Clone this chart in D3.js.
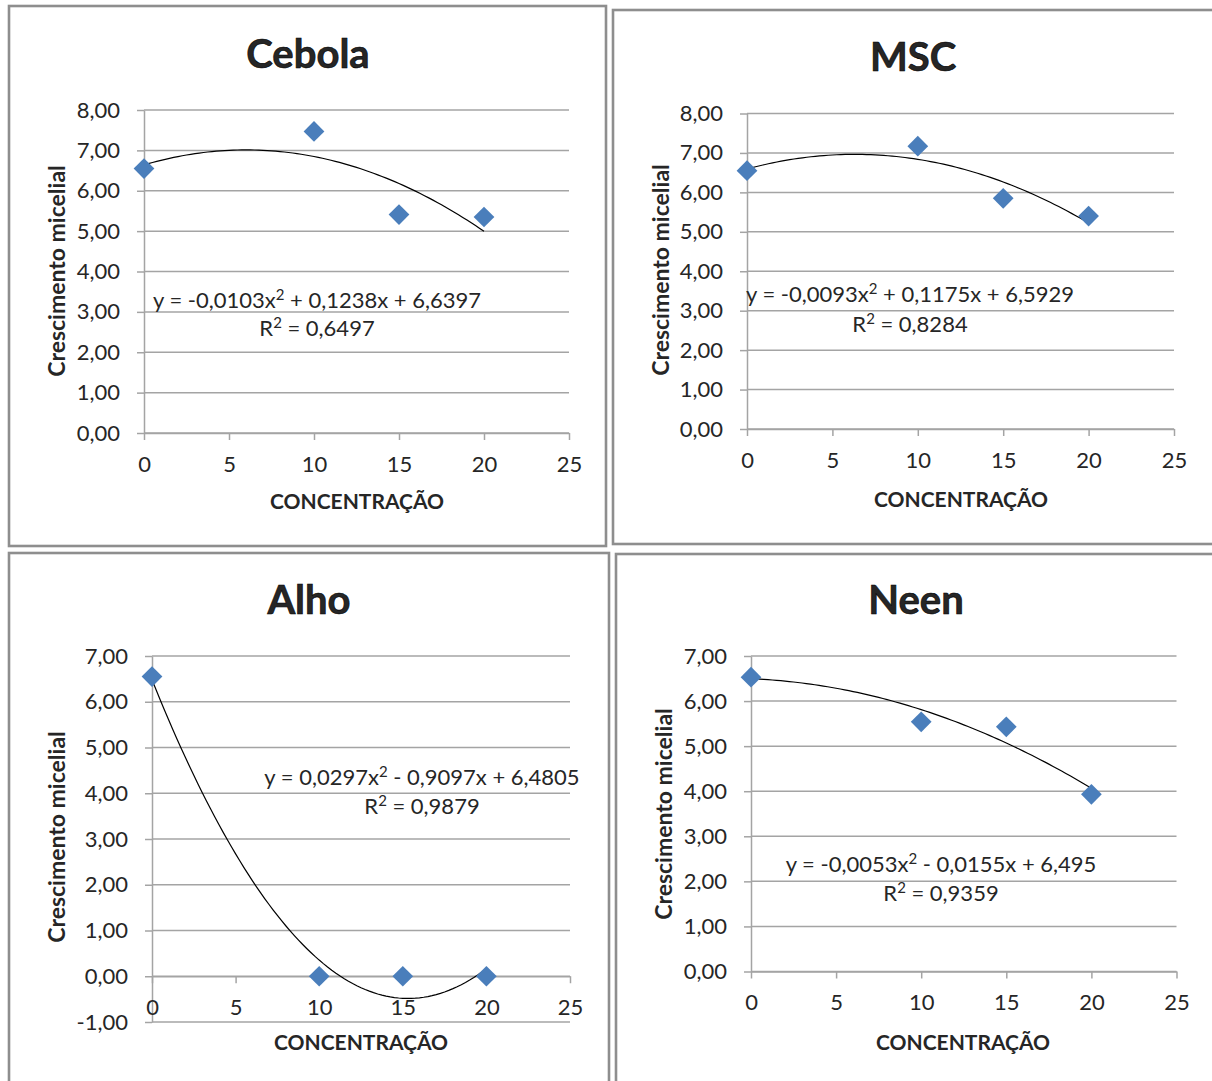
<!DOCTYPE html>
<html>
<head>
<meta charset="utf-8">
<script src="https://cdn.jsdelivr.net/npm/d3@7"></script>
<style>
  html, body { margin: 0; padding: 0; background: #fff; }
  svg { display: block; }
  text { font-family: Lato, "Open Sans", sans-serif; fill: #262626; }
</style>
</head>
<body>
<svg id="chart" width="1212" height="1081"></svg>
<script>
// ---------------------------------------------------------------------------
// Data
const concentracao = [0, 10, 15, 20];

const cebola = [6.55, 7.47, 5.41, 5.35];
const msc = [6.55, 7.17, 5.85, 5.40];
const alho = [6.55, 0, 0, 0];
const neen = [6.53, 5.54, 5.43, 3.93];

// trendline coefficients a, b, c for y = a*x^2 + b*x + c
const cebolaFit = [-0.0103, 0.1238, 6.6397];
const mscFit = [-0.0093, 0.1175, 6.5929];
const alhoFit = [0.0297, -0.9097, 6.4805];
const neenFit = [-0.0053, -0.0155, 6.495];

const titles = ['Cebola', 'MSC', 'Alho', 'Neen'];
const equations = [
  'y = -0,0103x² + 0,1238x + 6,6397',
  'y = -0,0093x² + 0,1175x + 6,5929',
  'y = 0,0297x² - 0,9097x + 6,4805',
  'y = -0,0053x² - 0,0155x + 6,495'
];
const rSquared = ['R² = 0,6497', 'R² = 0,8284', 'R² = 0,9879', 'R² = 0,9359'];

const xTicks = [0, 5, 10, 15, 20, 25];
const yTicksTop = [0, 1, 2, 3, 4, 5, 6, 7, 8];
const yTicksAlho = [-1, 0, 1, 2, 3, 4, 5, 6, 7];
const yTicksNeen = [0, 1, 2, 3, 4, 5, 6, 7];

const xLabel = 'CONCENTRAÇÃO';
const yLabel = 'Crescimento micelial';

// ---------------------------------------------------------------------------
// Layout of the four panels (page pixels)
const layout = [
  { box: [9, 6, 606, 546], left: 144, right: 569, top: 110, bottom: 433,
    titleX: 308, titleY: 68, xTitleX: 357, xTitleY: 509, yTitleX: 65, yTitleY: 271,
    eqX: 317, eqY: 308, r2Y: 336, series: cebola, fit: cebolaFit, yTicks: yTicksTop },
  { box: [613, 10, 1216, 544], left: 747, right: 1174, top: 113.5, bottom: 429,
    titleX: 913, titleY: 71, xTitleX: 961, xTitleY: 507, yTitleX: 669, yTitleY: 270,
    eqX: 910, eqY: 302, r2Y: 332, series: msc, fit: mscFit, yTicks: yTicksTop },
  { box: [9, 553, 609, 1090], left: 152, right: 570, top: 656, bottom: 1022,
    titleX: 309, titleY: 614, xTitleX: 361, xTitleY: 1050, yTitleX: 65, yTitleY: 837,
    eqX: 422, eqY: 785, r2Y: 814, series: alho, fit: alhoFit, yTicks: yTicksAlho },
  { box: [616, 554, 1216, 1090], left: 751, right: 1176.5, top: 656, bottom: 971.5,
    titleX: 916, titleY: 614, xTitleX: 963, xTitleY: 1050, yTitleX: 672, yTitleY: 814,
    eqX: 941, eqY: 872, r2Y: 901, series: neen, fit: neenFit, yTicks: yTicksNeen }
];

const locale = d3.formatLocale({ decimal: ',', thousands: '.', grouping: [3], currency: ['', ''], minus: '-' });
const fmt = locale.format('.2f');

const gridColor = '#a4a4a4';
const markerColor = '#4a7ebb';

const svg = d3.select('#chart');

// writes a label, drawing the "²" as a raised smaller 2
function superText(sel, str) {
  const parts = str.split('²');
  parts.forEach((p, k) => {
    const t = sel.append('tspan').text(p);
    if (k > 0) t.attr('dy', 8);
    if (k < parts.length - 1) {
      sel.append('tspan')
        .attr('dy', -8)
        .style('font-size', '15px')
        .text('2');
    }
  });
}

function drawPanel(cfg, i) {
  const g = svg.append('g').attr('class', 'panel-' + i);

  // panel frame
  g.append('rect')
    .attr('x', cfg.box[0]).attr('y', cfg.box[1])
    .attr('width', cfg.box[2] - cfg.box[0]).attr('height', cfg.box[3] - cfg.box[1])
    .attr('fill', 'none').attr('stroke', '#8e8e8e').attr('stroke-width', 2.6);

  const yDomain = d3.extent(cfg.yTicks);
  const x = d3.scaleLinear().domain([0, 25]).range([cfg.left, cfg.right]);
  const y = d3.scaleLinear().domain(yDomain).range([cfg.bottom, cfg.top]);

  // horizontal gridlines
  g.append('g')
    .selectAll('line')
    .data(cfg.yTicks)
    .enter()
    .append('line')
    .attr('x1', cfg.left).attr('x2', cfg.right)
    .attr('y1', d => y(d)).attr('y2', d => y(d))
    .attr('stroke', gridColor).attr('stroke-width', 1.5);

  // y axis
  const yAxis = g.append('g')
    .attr('transform', `translate(${cfg.left},0)`)
    .call(d3.axisLeft(y).tickValues(cfg.yTicks).tickFormat(fmt).tickSize(7).tickSizeOuter(0).tickPadding(17));

  // x axis sits at y = 0
  const xAxis = g.append('g')
    .attr('transform', `translate(0,${y(0)})`)
    .call(d3.axisBottom(x).tickValues(xTicks).tickSize(7).tickSizeOuter(0).tickPadding(16));

  [yAxis, xAxis].forEach(ax => {
    ax.select('.domain').attr('stroke', gridColor).attr('stroke-width', 1.5);
    ax.selectAll('.tick line').attr('stroke', gridColor).attr('stroke-width', 1.5);
    ax.selectAll('.tick text')
      .style('font-family', 'Lato, sans-serif')
      .style('font-size', '22px')
      .attr('fill', '#262626');
  });

  // trendline
  const fit = cfg.fit;
  const curve = d3.range(0, 20.001, 0.25).map(v => [v, fit[0] * v * v + fit[1] * v + fit[2]]);
  g.append('path')
    .datum(curve)
    .attr('fill', 'none')
    .attr('stroke', '#000')
    .attr('stroke-width', 1.2)
    .attr('d', d3.line().x(d => x(d[0])).y(d => y(d[1])));

  // markers
  const diamond = d3.symbol().type(d3.symbolSquare).size(215);
  g.append('g')
    .selectAll('path')
    .data(cfg.series)
    .enter()
    .append('path')
    .attr('d', diamond)
    .attr('transform', (d, k) => `translate(${x(concentracao[k])},${y(d)}) rotate(45)`)
    .attr('fill', markerColor);

  // texts
  g.append('text')
    .attr('x', cfg.titleX).attr('y', cfg.titleY)
    .attr('text-anchor', 'middle')
    .style('font-size', '40px').style('font-weight', 'bold')
    .attr('fill', '#000')
    .attr('stroke', '#000').attr('stroke-width', 0.6)
    .text(titles[i]);

  g.append('text')
    .attr('x', cfg.xTitleX).attr('y', cfg.xTitleY)
    .attr('text-anchor', 'middle')
    .style('font-size', '21px').style('font-weight', 'bold')
    .attr('fill', '#000')
    .text(xLabel);

  g.append('text')
    .attr('transform', `translate(${cfg.yTitleX},${cfg.yTitleY}) rotate(-90)`)
    .attr('text-anchor', 'middle')
    .style('font-size', '23px').style('font-weight', 'bold')
    .attr('fill', '#000')
    .text(yLabel);

  g.append('text')
    .attr('x', cfg.eqX).attr('y', cfg.eqY)
    .attr('text-anchor', 'middle')
    .style('font-size', '22px')
    .call(superText, equations[i]);

  g.append('text')
    .attr('x', cfg.eqX).attr('y', cfg.r2Y)
    .attr('text-anchor', 'middle')
    .style('font-size', '22px')
    .call(superText, rSquared[i]);
}

layout.forEach(drawPanel);
</script>
</body>
</html>
